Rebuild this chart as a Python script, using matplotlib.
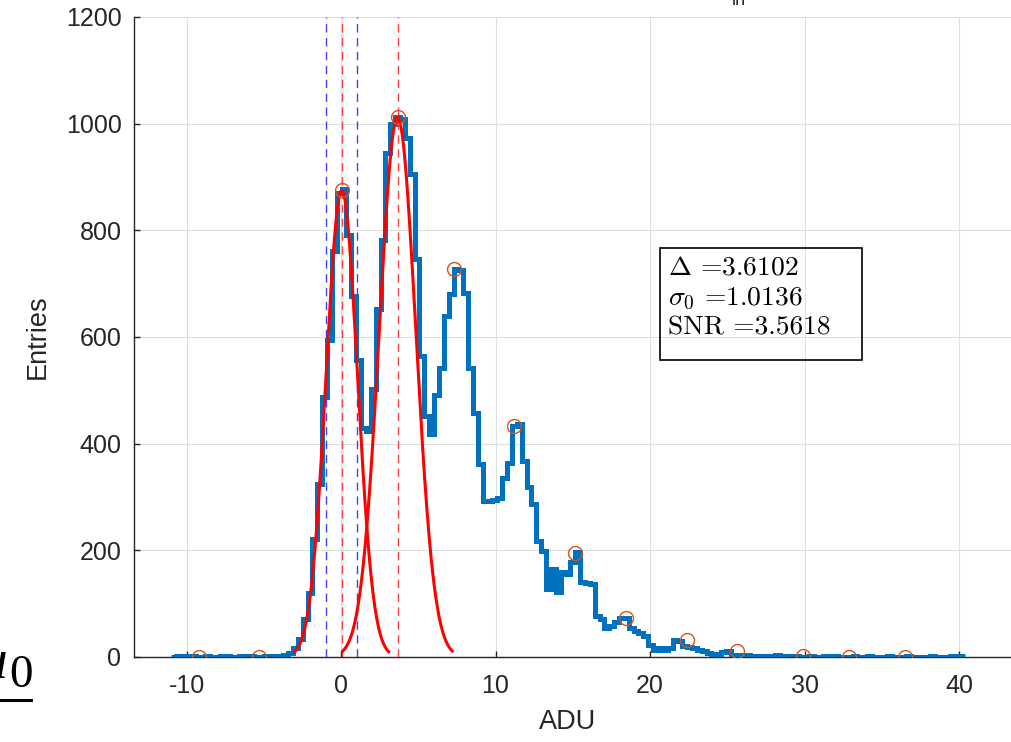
import numpy as np
import matplotlib
matplotlib.use("Agg")
import matplotlib.pyplot as plt
from matplotlib.patches import Rectangle
from matplotlib.lines import Line2D

# histogram counts, bin width ~0.315 ADU
bin_start = -10.985
bin_width = 0.315
counts = [0, 1, 1, 0, 1, 0, 0, 1, 0, 0, 1, 1, 0, 0, 1, 0, 1, 0, 0, 1, 1, 2, 2,
          3, 8, 17, 34, 72, 120, 222, 324, 488, 595, 761, 870, 877, 792, 676, 556, 430, 423, 502, 652, 782, 945,
          1000, 1012, 1008, 974, 906, 747, 565, 452, 418, 492, 542, 639, 680, 728, 726, 683, 542, 458, 361,
          292, 292, 295, 298, 336, 364, 434, 436, 367, 318, 286, 217, 199, 128, 165, 122, 160, 155, 178, 197, 140, 138, 136,
          77, 71, 55, 58, 66, 73, 74, 55, 48, 45, 39, 23, 13, 16, 14, 17, 32, 30, 20, 19, 17, 13, 12, 7, 4, 5, 10, 11,
          4, 4, 3, 3, 1, 0, 1, 1, 2, 3, 2,
          1, 0, 1, 0, 0, 1, 0, 0, 1, 0, 1, 0, 0, 0, 1, 0, 0, 1, 0, 0, 0, 1, 0, 0, 0, 1, 0, 0, 0, 0, 1, 0, 0, 0, 1, 0, 1]

# peaks found (orange circles)
peak_x = [-9.19, -5.31, 0.06, 3.69, 7.31, 11.2, 15.15, 18.45, 22.4, 25.6, 29.9, 32.9, 36.5]
peak_y = [0, 0, 875, 1012, 727, 433, 195, 73, 32, 11, 2, 0, 0]

# gaussian fits
mu0, sigma0, amp0 = 0.05, 1.0136, 875
delta = 3.6102
sigma1, amp1 = 1.18, 1012
snr = 3.5618

blue = (0, 0.447, 0.741)
orange = (0.85, 0.325, 0.098)
gray = (0.15, 0.15, 0.15)

plt.rcParams['font.family'] = 'Liberation Sans'
plt.rcParams['mathtext.fontset'] = 'cm'
plt.rcParams['axes.unicode_minus'] = False

fig = plt.figure(figsize=(10.12, 7.42), dpi=100)
W, H = 1012.0, 742.0
ax_l, ax_r, ax_b, ax_t = 134, 1100, 657, 17
ax = fig.add_axes([ax_l / W, 1 - ax_b / H, (ax_r - ax_l) / W, (ax_b - ax_t) / H])

px_per_adu = 15.45
ax.set_xlim((ax_l - 341) / px_per_adu, (ax_r - 341) / px_per_adu)
ax.set_ylim(0, 1200)

edges = bin_start + bin_width * np.arange(len(counts) + 1)
st = ax.stairs(counts, edges, baseline=None, color=blue, linewidth=3.6, zorder=3)
st.set_joinstyle('miter')

x0 = np.linspace(mu0 - 3 * sigma0, mu0 + 3 * sigma0, 200)
ax.plot(x0, amp0 * np.exp(-(x0 - mu0) ** 2 / (2 * sigma0 ** 2)), color='red', lw=2.2, zorder=4)
mu1 = mu0 + delta
x1 = np.linspace(mu1 - 3 * sigma1, mu1 + 3 * sigma1, 200)
ax.plot(x1, amp1 * np.exp(-(x1 - mu1) ** 2 / (2 * sigma1 ** 2)), color='red', lw=2.2, zorder=4)

for xv in [mu0, mu1]:
    ax.axvline(xv, color='red', ls=(0, (6, 4)), lw=1, alpha=0.75, zorder=2)
for xv in [mu0 - sigma0, mu0 + sigma0]:
    ax.axvline(xv, color='blue', ls=(0, (6, 4)), lw=1, alpha=0.75, zorder=2)

ax.plot(peak_x, peak_y, 'o', mfc='none', mec=orange, ms=10, mew=1, zorder=5)

ax.set_xticks([-10, 0, 10, 20, 30, 40])
ax.set_yticks(np.arange(0, 1201, 200))
ax.grid(True, color=(0.87, 0.87, 0.87), lw=0.8)
ax.set_axisbelow(True)
for s in ['top', 'right']:
    ax.spines[s].set_visible(False)
for s in ['left', 'bottom']:
    ax.spines[s].set_color(gray)
    ax.spines[s].set_linewidth(1)
ax.tick_params(direction='in', length=4, width=1, color=gray, labelcolor=gray, labelsize=18)
ax.tick_params(axis='y', pad=9)
ax.tick_params(axis='x', pad=12)

ax.set_xlabel('ADU', fontsize=19.5, color=gray, va='center')
ax.xaxis.set_label_coords((568 - ax_l) / (ax_r - ax_l), (ax_b - 722) / (ax_b - ax_t))
ax.set_ylabel('Entries', fontsize=19.5, color=gray, va='center')
ax.yaxis.set_label_coords((38 - ax_l) / (ax_r - ax_l), (ax_b - 337) / (ax_b - ax_t))

# text box
fig.add_artist(Rectangle((660 / W, 1 - 360 / H), 202 / W, 112 / H, transform=fig.transFigure,
                         facecolor='none', edgecolor='black', lw=1.2))
lines = [r'$\Delta$ =%.4f' % delta, r'$\sigma_0$ =%.4f' % sigma0, 'SNR =%.4f' % snr]
for i, t in enumerate(lines):
    fig.text(668 / W, 1 - (268 + 30 * i) / H, t, fontsize=19.8, family='cmr10', va='center', ha='left')

# cut-off pieces at the picture border
fig.text(739 / W, 1 - 5 / H, 'in', fontsize=13, color=gray, ha='center', va='baseline')
fig.text(7 / W, 1 - 677 / H, 'u', fontsize=40, family='Liberation Serif', style='italic', ha='right', va='baseline')
fig.text(9 / W, 1 - 687 / H, '0', fontsize=34, family='Liberation Serif', ha='left', va='baseline')
fig.add_artist(Line2D([0, 31 / W], [1 - 700 / H, 1 - 700 / H], transform=fig.transFigure, color='black', lw=2.2))

fig.savefig('out.png', dpi=100)
